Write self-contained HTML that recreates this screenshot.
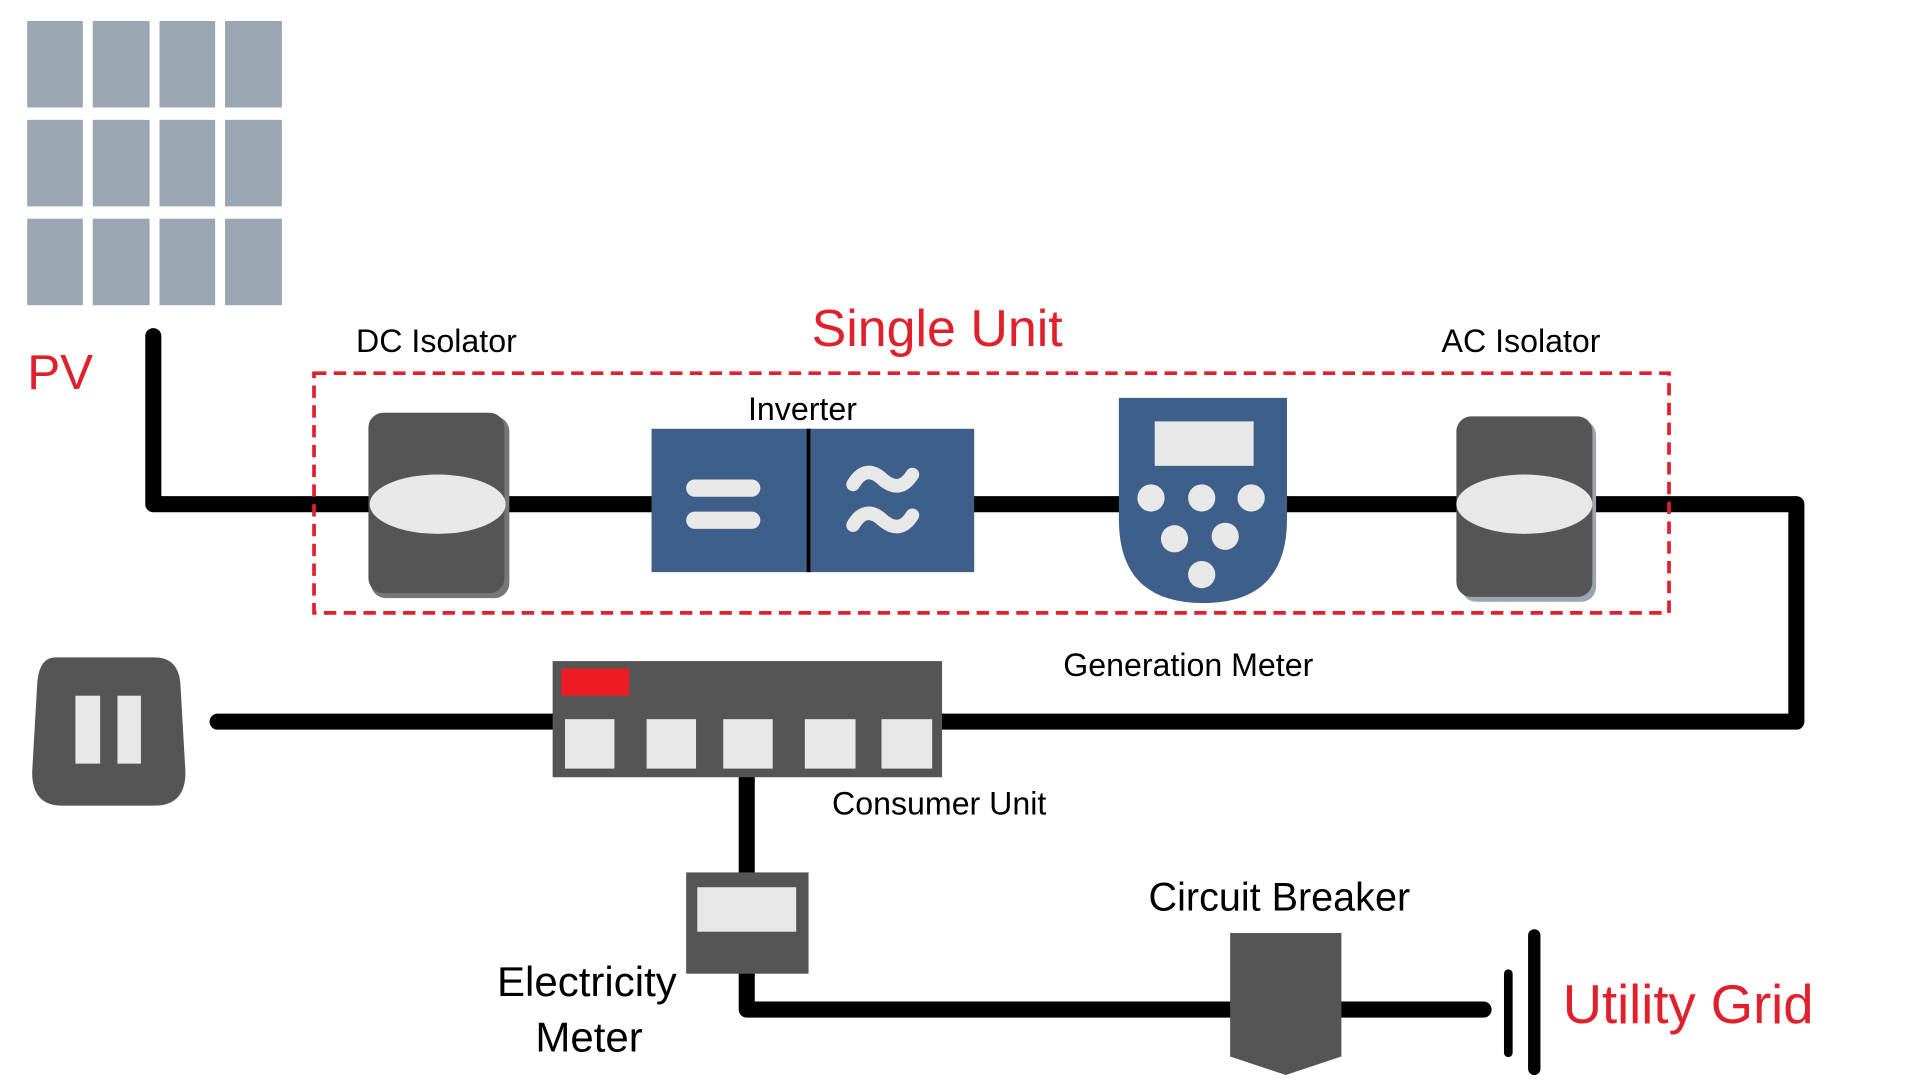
<!DOCTYPE html>
<html><head><meta charset="utf-8"><style>html,body{margin:0;padding:0;background:#fff;overflow:hidden}svg{display:block}text{font-family:"Liberation Sans",sans-serif}</style></head>
<body>
<svg width="1920" height="1080" viewBox="0 0 1553 874" preserveAspectRatio="none" xmlns="http://www.w3.org/2000/svg">
<g fill="#9aa6b2">
<rect x="22" y="17" width="45" height="70"/><rect x="75" y="17" width="46" height="70"/><rect x="129" y="17" width="45" height="70"/><rect x="182" y="17" width="46" height="70"/>
<rect x="22" y="97" width="45" height="70"/><rect x="75" y="97" width="46" height="70"/><rect x="129" y="97" width="45" height="70"/><rect x="182" y="97" width="46" height="70"/>
<rect x="22" y="177" width="45" height="70"/><rect x="75" y="177" width="46" height="70"/><rect x="129" y="177" width="45" height="70"/><rect x="182" y="177" width="46" height="70"/>
</g>
<text x="22" y="315" font-size="40" fill="#e0202a">PV</text>
<path d="M124 272 V408 H1453 V584 H176" fill="none" stroke="#000" stroke-width="13" stroke-linecap="round" stroke-linejoin="round"/>
<path d="M604 629 V817 H1200" fill="none" stroke="#000" stroke-width="13" stroke-linecap="round" stroke-linejoin="round"/>
<rect x="254" y="302" width="1096" height="194" fill="none" stroke="#e0202a" stroke-width="3" stroke-dasharray="10 6"/>
<text x="758" y="280" font-size="42" fill="#e0202a" text-anchor="middle">Single Unit</text>
<text x="288" y="285" font-size="26">DC Isolator</text>
<text x="605" y="340" font-size="26">Inverter</text>
<text x="1166" y="285" font-size="26">AC Isolator</text>
<rect x="300" y="337" width="112" height="147" rx="12" fill="#777"/>
<rect x="298" y="334" width="110" height="146" rx="12" fill="#555"/>
<ellipse cx="354" cy="408" rx="55" ry="24" fill="#e8e8e8"/>
<rect x="527" y="347" width="261" height="116" fill="#3e5f8a"/>
<line x1="654" y1="347" x2="654" y2="463" stroke="#000" stroke-width="3"/>
<rect x="555" y="388" width="60" height="14" rx="7" fill="#e8e8e8"/>
<rect x="555" y="414" width="60" height="14" rx="7" fill="#e8e8e8"/>
<path d="M690 392 Q700 375 714 388 Q728 400 738 384 M690 425 Q700 408 714 421 Q728 433 738 417" fill="none" stroke="#e8e8e8" stroke-width="11" stroke-linecap="round"/>
<path d="M905 322 H1041 V420 Q1041 488 973 488 Q905 488 905 420 Z" fill="#3e5f8a"/>
<rect x="934" y="341" width="80" height="36" fill="#e8e8e8"/>
<g fill="#e8e8e8"><circle cx="931" cy="403" r="11"/><circle cx="972" cy="403" r="11"/><circle cx="1012" cy="403" r="11"/><circle cx="950" cy="436" r="11"/><circle cx="991" cy="434" r="11"/><circle cx="972" cy="465" r="11"/></g>
<rect x="1182" y="340" width="109" height="147" rx="12" fill="#9aa6b2"/>
<rect x="1178" y="337" width="110" height="146" rx="12" fill="#555"/>
<ellipse cx="1233" cy="408" rx="55" ry="24" fill="#e8e8e8"/>
<text x="860" y="547" font-size="26">Generation Meter</text>
<path d="M45 532 H125 Q145 532 146 555 L150 625 Q150 652 125 652 H50 Q26 652 26 625 L30 555 Q31 532 45 532Z" fill="#555"/>
<rect x="61" y="563" width="20" height="55" fill="#e8e8e8"/><rect x="95" y="563" width="19" height="55" fill="#e8e8e8"/>
<rect x="447" y="535" width="315" height="94" fill="#555"/>
<rect x="454" y="541" width="55" height="22" fill="#ee1c24"/>
<g fill="#e8e8e8"><rect x="457" y="582" width="40" height="40"/><rect x="523" y="582" width="40" height="40"/><rect x="585" y="582" width="40" height="40"/><rect x="651" y="582" width="41" height="40"/><rect x="713" y="582" width="41" height="40"/></g>
<text x="673" y="659" font-size="26">Consumer Unit</text>
<rect x="555" y="706" width="99" height="82" fill="#555"/>
<rect x="564" y="718" width="80" height="36" fill="#e8e8e8"/>
<text x="402" y="806" font-size="34">Electricity</text>
<text x="433" y="851" font-size="34">Meter</text>
<path d="M995 755 H1085 V855 L1040 870 L995 855Z" fill="#555"/>
<text x="929" y="737" font-size="32">Circuit Breaker</text>
<line x1="1220" y1="788" x2="1220" y2="852" stroke="#000" stroke-width="7" stroke-linecap="round"/>
<line x1="1241" y1="757" x2="1241" y2="865" stroke="#000" stroke-width="10" stroke-linecap="round"/>
<text x="1264" y="828" font-size="44" fill="#e0202a">Utility Grid</text>
</svg>
</body></html>
